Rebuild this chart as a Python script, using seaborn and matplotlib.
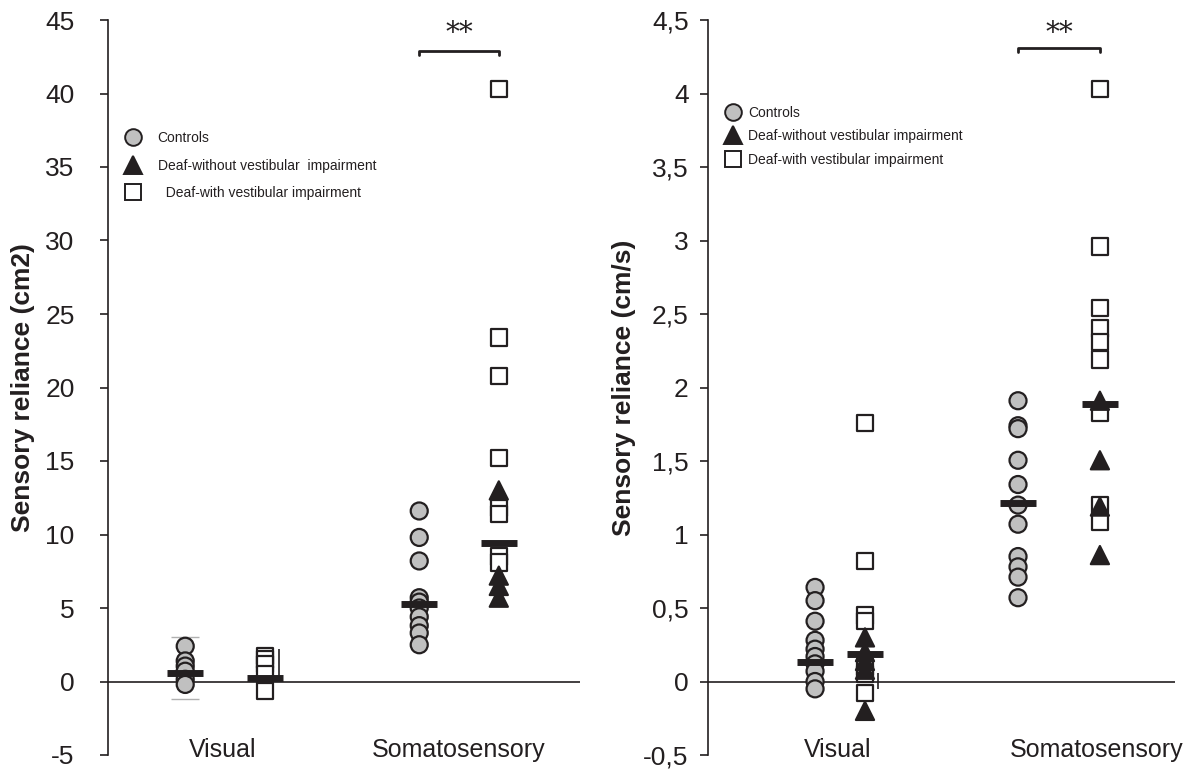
import numpy as np
import pandas as pd
import matplotlib
matplotlib.use("Agg")
import matplotlib.pyplot as plt
import seaborn as sns
from matplotlib.lines import Line2D
from matplotlib.ticker import FuncFormatter

sns.set_theme(style="white")
plt.rcParams["font.family"] = ["Liberation Sans", "DejaVu Sans"]

# ---------------- data ----------------
conditions = ["Visual", "Somatosensory"]
groups = ["Controls", "Deaf-without vestibular impairment", "Deaf-with vestibular impairment"]

# Left panel: sensory reliance, sway area (cm2)  [Visual, Somatosensory]
area_controls = [[2.4, 1.4, 1.05, 0.7, 0.15, -0.2],
                 [11.6, 9.8, 8.2, 5.7, 5.4, 5.0, 4.4, 3.8, 3.3, 2.5]]
area_deaf_novest = [[],
                    [13.0, 7.2, 6.5, 5.7]]
area_deaf_vest = [[1.75, 1.5, 1.2, 0.5, -0.65],
                  [40.3, 23.4, 20.8, 15.2, 11.8, 11.4, 8.5, 8.1]]
area_mean_controls = [0.6, 5.3]
area_mean_deaf = [0.22, 9.45]
area_err_controls_visual = [-1.2, 3.0]
area_err_deaf_visual = [0.1, 2.2]

# Right panel: sensory reliance, sway velocity (cm/s)
vel_controls = [[0.64, 0.55, 0.41, 0.28, 0.22, 0.17, 0.12, 0.07, 0.0, -0.05],
                [1.91, 1.74, 1.72, 1.505, 1.34, 1.2, 1.07, 0.85, 0.78, 0.71, 0.57]]
vel_deaf_novest = [[0.30, 0.2, 0.14, 0.08, -0.2],
                   [1.91, 1.505, 1.19, 0.86]]
vel_deaf_vest = [[1.76, 0.82, 0.45, 0.41, 0.1, 0.05, -0.08],
                 [4.03, 2.96, 2.54, 2.40, 2.31, 2.19, 1.83, 1.2, 1.085]]
vel_mean_controls = [0.13, 1.215]
vel_mean_deaf = [0.19, 1.89]
vel_err_deaf_visual = [-0.05, 0.06]

# ---------------- styling ----------------
DARK = "#231f20"
palette = {groups[0]: "#c0c0c0", groups[1]: DARK, groups[2]: "white"}
markers = {groups[0]: "o", groups[1]: "^", groups[2]: "s"}
sizes = {groups[0]: 150, groups[1]: 170, groups[2]: 140}
draw_order = [groups[0], groups[2], groups[1]]


def long_frame(ctrl, novest, vest, base, offsets):
    rows = []
    for g in draw_order:
        src = {groups[0]: ctrl, groups[1]: novest, groups[2]: vest}[g]
        for ci, cond in enumerate(conditions):
            kind = "ctrl" if g == groups[0] else "deaf"
            for v in src[ci]:
                rows.append({"condition": cond, "group": g, "value": v,
                             "x": base[ci] + offsets[ci][kind]})
    return pd.DataFrame(rows)


fig = plt.figure(figsize=(11.83, 7.72), dpi=100)
W, H = 1183, 772


def px_axes(x0, x1, y0, y1):
    return fig.add_axes([x0 / W, 1 - y1 / H, (x1 - x0) / W, (y1 - y0) / H])


axL = px_axes(108, 580, 20, 755)
axR = px_axes(708, 1175, 20, 755)

panels = [
    dict(ax=axL, ctrl=area_controls, novest=area_deaf_novest, vest=area_deaf_vest,
         mc=area_mean_controls, md=area_mean_deaf, base=[0.0, 1.0],
         offsets=[{"ctrl": -0.17, "deaf": 0.17}, {"ctrl": -0.17, "deaf": 0.17}],
         xlim=(-0.5, 1.517), ylim=(-5, 45), yticks=np.arange(-5, 46, 5),
         xlabpos=[-0.01, 1.0], hw=0.077, ylabel="Sensory reliance (cm2)",
         brk=(42.6, 42.9, 44.1), ypad=18),
    dict(ax=axR, ctrl=vel_controls, novest=vel_deaf_novest, vest=vel_deaf_vest,
         mc=vel_mean_controls, md=vel_mean_deaf, base=[0.0, 1.0],
         offsets=[{"ctrl": -0.114, "deaf": 0.114}, {"ctrl": -0.187, "deaf": 0.187}],
         xlim=(-0.603, 1.53), ylim=(-0.5, 4.5), yticks=np.arange(-0.5, 4.51, 0.5),
         xlabpos=[-0.01, 1.17], hw=0.084, ylabel="Sensory reliance (cm/s)",
         brk=(4.28, 4.31, 4.41), ypad=8),
]

for p in panels:
    ax = p["ax"]
    df = long_frame(p["ctrl"], p["novest"], p["vest"], p["base"], p["offsets"])
    sns.scatterplot(data=df, x="x", y="value", hue="group", style="group", size="group",
                    palette=palette, markers=markers, sizes=sizes,
                    edgecolor=DARK, linewidth=1.6, legend=False, ax=ax, zorder=3)
    # mean bars
    for ci in range(2):
        for kind, m in (("ctrl", p["mc"][ci]), ("deaf", p["md"][ci])):
            xc = p["base"][ci] + p["offsets"][ci][kind]
            ax.hlines(m, xc - p["hw"], xc + p["hw"], color=DARK, lw=5, zorder=5)
    # zero line
    ax.axhline(0, color=DARK, lw=1.2, zorder=1)
    # significance bracket
    x1 = p["base"][1] + p["offsets"][1]["ctrl"]
    x2 = p["base"][1] + p["offsets"][1]["deaf"]
    lo, hi, txt = p["brk"]
    ax.plot([x1, x1, x2, x2], [lo, hi, hi, lo], color=DARK, lw=2, clip_on=False)
    ax.text((x1 + x2) / 2, txt, "**", ha="center", va="center", fontsize=20, color=DARK,
            family=["DejaVu Serif", "DejaVu Sans"])

    ax.set_xlim(*p["xlim"])
    ax.set_ylim(*p["ylim"])
    ax.set_yticks(p["yticks"])
    ax.yaxis.set_major_formatter(FuncFormatter(lambda v, pos: f"{v:g}".replace(".", ",")))
    ax.set_xticks(p["xlabpos"])
    ax.set_xticklabels(conditions)
    ax.tick_params(axis="x", length=0, pad=-12, labelsize=18, labelcolor=DARK)
    ax.tick_params(axis="y", left=True, direction="out", length=6, width=1.2,
                   color=DARK, labelsize=19, labelcolor=DARK, pad=p["ypad"])
    for s in ("top", "right", "bottom"):
        ax.spines[s].set_visible(False)
    ax.spines["left"].set_color(DARK)
    ax.spines["left"].set_linewidth(1.2)
    ax.set_xlabel("")
    ax.set_ylabel(p["ylabel"], fontsize=19, fontweight="bold", color=DARK)
    ax.yaxis.set_label_coords(-0.155, 0.5)
    ax.grid(False)

# error bars of the visual condition
xc = panels[0]["base"][0] + panels[0]["offsets"][0]["ctrl"]
for e in area_err_controls_visual:
    axL.hlines(e, xc - 0.06, xc + 0.06, color="#b0b0b0", lw=1, zorder=2)
xd = panels[0]["base"][0] + panels[0]["offsets"][0]["deaf"] + 0.06
axL.vlines(xd, area_err_deaf_visual[0], area_err_deaf_visual[1], color=DARK, lw=1.2, zorder=6)
xd = panels[1]["base"][0] + panels[1]["offsets"][0]["deaf"] + 0.06
axR.vlines(xd, vel_err_deaf_visual[0], vel_err_deaf_visual[1], color=DARK, lw=1.2, zorder=6)


def handles():
    return [Line2D([], [], ls="", marker=markers[g], markersize=12 if g != groups[1] else 13,
                   markerfacecolor=palette[g], markeredgecolor=DARK, markeredgewidth=1.4)
            for g in groups]


axL.legend(handles(), ["Controls", "Deaf-without vestibular  impairment",
                       "  Deaf-with vestibular impairment"],
           loc="upper left", bbox_to_anchor=(0.02, 0.858), frameon=False, fontsize=10,
           handletextpad=1.2, labelspacing=0.95, borderpad=0, handlelength=1.2,
           labelcolor=DARK)
axR.legend(handles(), groups,
           loc="upper left", bbox_to_anchor=(0.02, 0.893), frameon=False, fontsize=10,
           handletextpad=0.5, labelspacing=0.7, borderpad=0, handlelength=1.2,
           labelcolor=DARK)

fig.savefig("out.png", dpi=100)
